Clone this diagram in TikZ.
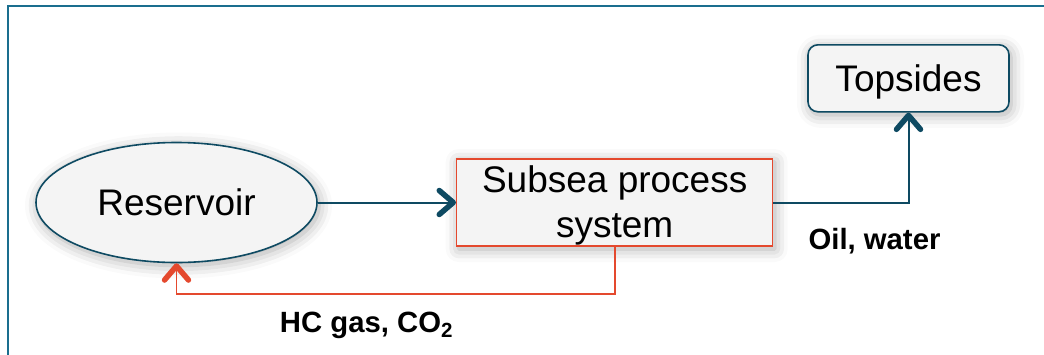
\documentclass[tikz,border=0pt]{standalone}
\usepackage{fontspec}
\setmainfont{Liberation Sans}
\usetikzlibrary{arrows.meta,shapes.geometric,shadows.blur}
\definecolor{frameblue}{HTML}{1A6E8E}
\definecolor{deepteal}{HTML}{0E4A62}
\definecolor{flowred}{HTML}{E4492E}
\definecolor{panelgray}{HTML}{F4F4F4}

\tikzset{
  glow/.style={blur shadow={shadow xshift=2pt, shadow yshift=-3pt,
      shadow blur radius=13pt, shadow opacity=34}},
  bigtext/.style={font=\fontsize{37}{45}\selectfont},
  tagtext/.style={font=\fontsize{29.3}{35}\selectfont\bfseries},
  chev/.style={-{Straight Barb[length=14pt,width=24pt,line width=5.5pt,
      line cap=round,line join=round]}},
  tealflow/.style={draw=deepteal, line width=2pt, chev},
  redflow/.style={draw=flowred, line width=1.8pt, chev},
  shellbox/.style={fill=panelgray, inner sep=0pt, text depth=0pt, glow},
}

\begin{document}
\begin{tikzpicture}[x=1pt,y=-1pt]
\useasboundingbox (0,0) rectangle (1044,354);

% panel frame, only its top and left edges fall inside the page
\draw[frameblue, line width=2.2pt] (1050,6) -- (8,6) -- (8,360);

% process blocks
\node[shellbox, ellipse, draw=deepteal, line width=1.6pt,
      minimum width=281pt, minimum height=120pt, bigtext] (res) at (176.5,202.5) {Reservoir};
\node[shellbox, rectangle, draw=flowred, line width=1.4pt,
      minimum width=316pt, minimum height=87pt,
      label={[bigtext, align=center, inner sep=0pt, yshift=-3pt]center:Subsea process\\system}] (sub) at (614.7,202.5) {};
\node[shellbox, rectangle, rounded corners=10pt, draw=deepteal, line width=1.6pt,
      minimum width=201pt, minimum height=67pt, bigtext] (top) at (908.5,78.3) {Topsides};

% flows
\coordinate (ret) at (176.5,294);
\draw[tealflow] (res.east) -- (sub.west);
\draw[tealflow] (sub.east) -| (top.south);
\draw[redflow] (sub.south) |- (ret) -- (res.south);

% stream labels
\node[tagtext, anchor=base] (oil) at (874.5,249) {Oil, water};
\node[tagtext, anchor=base] (gas) at (366.5,332) {HC gas, CO\textsubscript{2}};
\end{tikzpicture}
\end{document}
